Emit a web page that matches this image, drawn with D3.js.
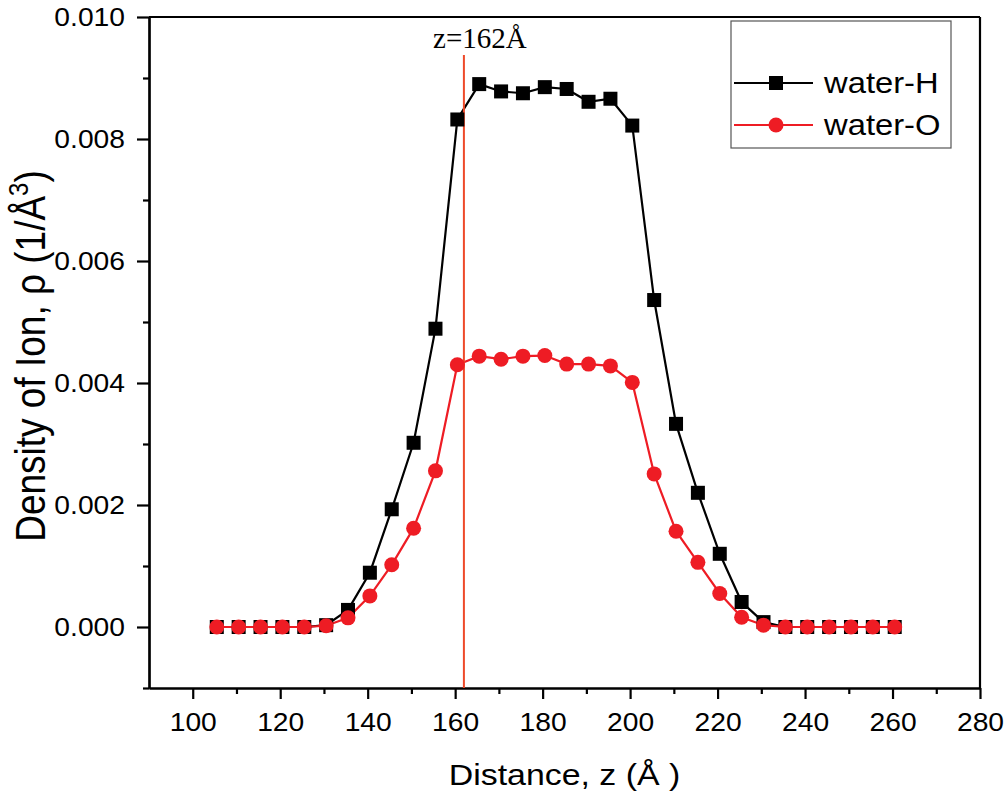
<!DOCTYPE html>
<html>
<head>
<meta charset="utf-8">
<script src="https://cdn.jsdelivr.net/npm/d3@7"></script>
<style>
  html, body { margin: 0; padding: 0; background: #fff; }
  svg { display: block; }
  text { font-family: "Liberation Sans", Arial, sans-serif; fill: #000; }
</style>
</head>
<body>
<svg id="chart" width="1008" height="797"></svg>
<script>
// Distance along z (Å), bin centres
const distance = [105.5, 110.5, 115.5, 120.5, 125.5, 130.5, 135.5, 140.5, 145.5, 150.5,
  155.5, 160.5, 165.5, 170.5, 175.5, 180.5, 185.5, 190.5, 195.5, 200.5, 205.5, 210.5,
  215.5, 220.5, 225.5, 230.5, 235.5, 240.5, 245.5, 250.5, 255.5, 260.5];

// Density profiles (1/Å^3)
const waterH = [0, 0, 0, 0, 0, 0.00003, 0.00028, 0.00089, 0.00193, 0.00302, 0.00489, 0.00832,
  0.00890, 0.00878, 0.00875, 0.00885, 0.00882, 0.00861, 0.00866, 0.00822, 0.00536, 0.00333,
  0.00220, 0.00120, 0.00041, 0.00008, 0, 0, 0, 0, 0, 0];
const waterO = [0, 0, 0, 0, 0, 0.00002, 0.00015, 0.00051, 0.00102, 0.00162, 0.00256, 0.00430,
  0.00444, 0.00439, 0.00444, 0.00445, 0.00431, 0.00431, 0.00428, 0.00401, 0.00251, 0.00157,
  0.00106, 0.00055, 0.00016, 0.00003, 0, 0, 0, 0, 0, 0];

const seriesNames = ["water-H", "water-O"];

// Axis ticks
const xMajor = [100, 120, 140, 160, 180, 200, 220, 240, 260, 280];
const xMinor = [110, 130, 150, 170, 190, 210, 230, 250, 270];
const yMajor = [0, 0.002, 0.004, 0.006, 0.008, 0.010];
const yMinor = [-0.001, 0.001, 0.003, 0.005, 0.007, 0.009];

// Reference plane
const zPlane = 162;
const zPlaneLabel = "z=162Å";

const svg = d3.select("#chart");
const plot = { left: 149, right: 980, top: 17, bottom: 688 };
const stretch = 1.13; // horizontal widening of the lettering

const x = d3.scaleLinear().domain([90, 280]).range([plot.left, plot.right]);
const y = d3.scaleLinear().domain([-0.001, 0.010]).range([plot.bottom, plot.top]);

const axisStroke = 2.2;

function styleAxis(g) {
  g.selectAll(".domain").attr("stroke", "#000").attr("stroke-width", axisStroke);
  g.selectAll(".tick line").attr("stroke", "#000").attr("stroke-width", axisStroke);
  g.selectAll(".tick text")
    .attr("font-family", "Liberation Sans, Arial, sans-serif")
    .attr("font-size", 25).attr("fill", "#000");
}

// Frame: top and right edges
svg.append("line").attr("x1", plot.left).attr("x2", plot.right)
  .attr("y1", plot.top).attr("y2", plot.top)
  .attr("stroke", "#000").attr("stroke-width", axisStroke);
svg.append("line").attr("x1", plot.right).attr("x2", plot.right)
  .attr("y1", plot.top).attr("y2", plot.bottom)
  .attr("stroke", "#000").attr("stroke-width", axisStroke);

// Bottom axis
svg.append("g").attr("transform", `translate(0,${plot.bottom})`)
  .call(d3.axisBottom(x).tickValues(xMinor).tickSize(6).tickSizeOuter(0).tickFormat(""))
  .call(styleAxis);
svg.append("g").attr("transform", `translate(0,${plot.bottom})`)
  .call(d3.axisBottom(x).tickValues(xMajor).tickSize(11).tickSizeOuter(0).tickPadding(14))
  .call(styleAxis)
  .call(g => g.selectAll(".tick text").attr("transform", `scale(${stretch},1)`));

// Left axis
svg.append("g").attr("transform", `translate(${plot.left},0)`)
  .call(d3.axisLeft(y).tickValues(yMinor).tickSize(6).tickSizeOuter(0).tickFormat(""))
  .call(styleAxis);
svg.append("g").attr("transform", `translate(${plot.left},0)`)
  .call(d3.axisLeft(y).tickValues(yMajor).tickSize(12).tickSizeOuter(0).tickPadding(11)
    .tickFormat(d3.format(".3f")))
  .call(styleAxis)
  .call(g => g.selectAll(".tick text")
    .attr("x", -24 / stretch)
    .attr("transform", `scale(${stretch},1)`));

// Axis titles
svg.append("text")
  .attr("transform", `translate(${(plot.left + plot.right) / 2},785) scale(${stretch},1)`)
  .attr("text-anchor", "middle").attr("font-size", 30)
  .text("Distance, z (Å )");

const yTitle = svg.append("text")
  .attr("transform", `translate(45,356) scale(${stretch},1) rotate(-90)`)
  .attr("text-anchor", "middle").attr("font-size", 37);
yTitle.append("tspan").text("Density of Ion, ρ (1/Å");
yTitle.append("tspan").attr("font-size", 24).attr("dy", -15).text("3");
yTitle.append("tspan").attr("dy", 15).text(")");

// Series
const series = [
  { name: seriesNames[0], values: waterH, color: "#000000", shape: "square" },
  { name: seriesNames[1], values: waterO, color: "#ee1c24", shape: "circle" }
];

const line = d3.line().x(d => x(d[0])).y(d => y(d[1]));

series.forEach(s => {
  const pts = distance.map((d, i) => [d, s.values[i]]);
  svg.append("path").datum(pts)
    .attr("fill", "none").attr("stroke", s.color).attr("stroke-width", 2.2)
    .attr("d", line);
});

// Vertical marker plane
svg.append("line")
  .attr("x1", x(zPlane)).attr("x2", x(zPlane))
  .attr("y1", 55).attr("y2", plot.bottom)
  .attr("stroke", "#ee4a2a").attr("stroke-width", 2);

svg.append("text")
  .attr("x", x(zPlane) + 16).attr("y", 48)
  .attr("text-anchor", "middle")
  .style("font-family", "'Liberation Serif', 'Times New Roman', serif")
  .attr("font-size", 29)
  .text(zPlaneLabel);

function drawMarker(g, shape, color, cx, cy) {
  if (shape === "square") {
    g.append("rect").attr("x", cx - 7).attr("y", cy - 7)
      .attr("width", 14).attr("height", 14).attr("fill", color);
  } else {
    g.append("circle").attr("cx", cx).attr("cy", cy).attr("r", 7.5).attr("fill", color);
  }
}

series.forEach(s => {
  const g = svg.append("g");
  distance.forEach((d, i) => drawMarker(g, s.shape, s.color, x(d), y(s.values[i])));
});

// Legend
const legend = svg.append("g");
legend.append("rect")
  .attr("x", 731).attr("y", 21).attr("width", 220).attr("height", 127)
  .attr("fill", "#fff").attr("stroke", "#555").attr("stroke-width", 1.2);
series.forEach((s, i) => {
  const ly = 83 + i * 42;
  legend.append("line").attr("x1", 734).attr("x2", 813).attr("y1", ly).attr("y2", ly)
    .attr("stroke", s.color).attr("stroke-width", 2.2);
  drawMarker(legend, s.shape, s.color, 776, ly);
  legend.append("text")
    .attr("transform", `translate(824,${ly + 10}) scale(${stretch},1)`)
    .attr("font-size", 29).text(s.name);
});
</script>
</body>
</html>
